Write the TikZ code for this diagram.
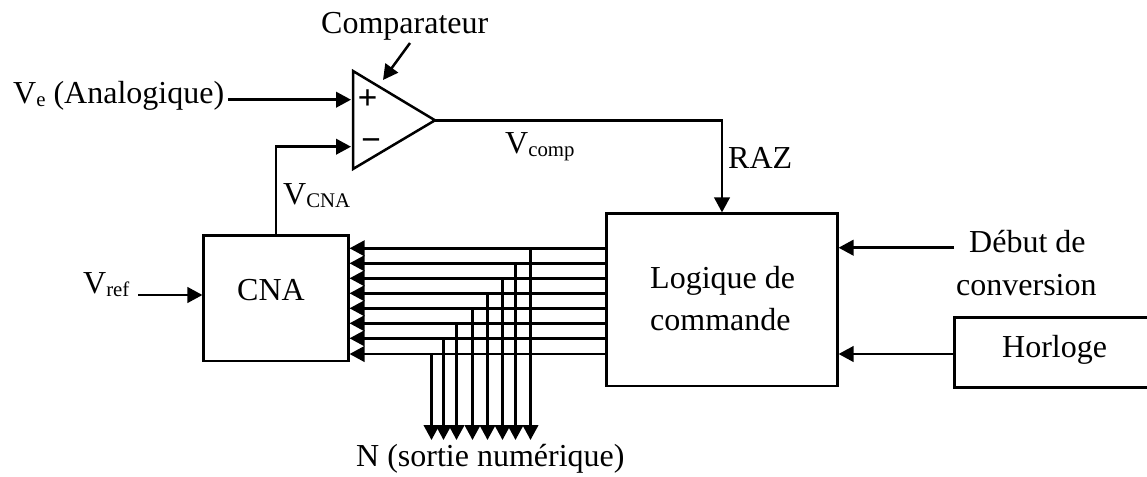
\documentclass[tikz,border=0pt]{standalone}
\usepackage{fontspec}
\setmainfont{Liberation Serif}
\usetikzlibrary{arrows.meta,calc}
\tikzset{
  x=1pt,y=-1pt,
  wire/.style={line width=2.5pt,draw=black},
  arr/.style={wire,-{Triangle[length=15pt,width=15.5pt,fill=black]}},
  boxnode/.style={draw=black,line width=2.5pt,inner sep=0pt,anchor=center},
  lbl/.style={inner sep=0pt,anchor=base west,font=\fontsize{32}{36}\selectfont,text=black},
  sgn/.style={inner sep=0pt,font=\fontsize{35}{36}\selectfont\bfseries,text=black},
}
\newcommand{\sbs}[1]{\raisebox{-3pt}{\fontsize{20.8}{22}\selectfont #1}}
\begin{document}
\begin{tikzpicture}
\useasboundingbox (0,0) rectangle (1147,476);
% boxes
\node[boxnode,minimum width=144.6pt,minimum height=125.3pt] (cna) at (276,298.3) {};
\node[lbl] (cnat) at (237,300.7) {CNA};
\node[boxnode,minimum width=230.6pt,minimum height=172.3pt] (log) at (722,299.8) {};
\node[lbl] (logt) at (650,288.3) {Logique de};
\node[lbl] (logb) at (650,330.7) {commande};
\node[boxnode,minimum width=194.7pt,minimum height=70pt] (hor) at (1051.6,352.3) {};
\node[lbl] (hort) at (1002,357.3) {Horloge};
% comparator
\coordinate (a1) at (353,71);
\coordinate (a2) at (353,169);
\coordinate (a3) at (435,120.3);
\draw[line width=2.5pt,line join=miter] (a1) -- (a2) -- (a3) -- cycle;
\node[sgn] (plus) at (367.7,99.5) {+};
\node[sgn] (minus) at (371,145.3) {−};
% labels
\node[lbl] (comp) at (321,33.3) {Comparateur};
\node[lbl] (ve) at (13,103) {V\sbs{e} (Analogique)};
\node[lbl] (vcna) at (283,204) {V\sbs{CNA}};
\node[lbl] (vcomp) at (505,153.3) {V\sbs{comp}};
\node[lbl] (raz) at (728,168) {RAZ};
\node[lbl] (vref) at (83,293) {V\sbs{ref}};
\node[lbl] (deb) at (969,252.7) {Début de};
\node[lbl] (conv) at (956,295) {conversion};
\node[lbl] (sortie) at (356,466.7) {N (sortie numérique)};
% named connector ends
\coordinate (veS) at (228,99.7);
\coordinate (vpT) at (351,99.7);
\coordinate (vmT) at (351,146.7);
\coordinate (corner) at (276,146.7);
\coordinate (cS) at (410,43);
\coordinate (cT) at (383,80);
\coordinate (bend) at (722,120.3);
\coordinate (debS) at (954,247.7);
\coordinate (horRow) at (954,354);
\coordinate (refS) at (138,295);
\draw[arr] (veS) -- (vpT);
\draw[arr] (cna.north) -- (corner) -- (vmT);
\draw[arr] (cS) -- (cT);
\draw[arr] (a3) -- (bend) -- (log.north);
\draw[arr] (debS) -- (log.east |- debS);
\draw[arr] (hor.west |- horRow) -- (log.east |- horRow);
\draw[arr] (refS) -- (cna.west |- refS);
% bus
\foreach \i/\y/\x in {1/248.3/530.5,2/263.3/515.5,3/278.3/502.5,4/293.3/487.5,5/308.3/472.5,6/323.3/456.5,7/338.3/443.5,8/354/431.5}{
  \coordinate (j\i) at (\x,\y);
  \coordinate (b\i) at (\x,440);
  \draw[arr] (log.west |- j\i) -- (cna.east |- j\i);
  \draw[arr] (j\i) -- (b\i);
}
\end{tikzpicture}
\end{document}
